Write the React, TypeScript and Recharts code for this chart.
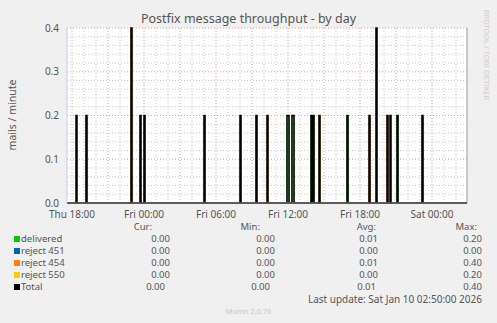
import { LineChart, Line, XAxis, YAxis, ReferenceLine, ReferenceArea } from 'recharts';

// 5-minute slots, slot 0 = Thu 17:35, 400 slots in the day graph
const SLOT_COUNT = 400;

const SERIES = [
  { key: 'delivered', label: 'delivered', color: '#00cc00' },
  { key: 'r451', label: 'reject 451', color: '#0066b3' },
  { key: 'r454', label: 'reject 454', color: '#ff8000' },
  { key: 'r550', label: 'reject 550', color: '#ffcc00' },
];

// spikes (slot, series, mails/minute)
const SPIKE_SLOTS = [9, 19, 64, 73, 77, 137, 173, 189, 200, 220, 221, 225, 226, 244, 246, 252, 280, 302, 309, 320, 323, 330, 355];
const SPIKE_SERIES = ['r550', 'r454', 'r454', 'r454', 'r454', 'r454', 'r454', 'delivered', 'r454', 'delivered', 'delivered', 'delivered', 'delivered', 'delivered', 'delivered', 'r454', 'delivered', 'r454', 'r454', 'r454', 'r550', 'delivered', 'delivered'];
const SPIKE_VALUES = [0.2, 0.2, 0.4, 0.2, 0.2, 0.2, 0.2, 0.2, 0.2, 0.2, 0.2, 0.2, 0.2, 0.2, 0.2, 0.2, 0.2, 0.2, 0.4, 0.2, 0.2, 0.2, 0.2];

const X_TICKS = [5, 77, 149, 221, 293, 365];
const X_LABELS = ['Thu 18:00', 'Fri 00:00', 'Fri 06:00', 'Fri 12:00', 'Fri 18:00', 'Sat 00:00'];
const Y_TICKS = [0, 0.1, 0.2, 0.3, 0.4];
const Y_MINOR = [0.02, 0.04, 0.06, 0.08, 0.12, 0.14, 0.16, 0.18, 0.22, 0.24, 0.26, 0.28, 0.32, 0.34, 0.36, 0.38];

const STATS = {
  delivered: ['0.00', '0.00', '0.01', '0.20'],
  r451: ['0.00', '0.00', '0.00', '0.00'],
  r454: ['0.00', '0.00', '0.01', '0.40'],
  r550: ['0.00', '0.00', '0.00', '0.20'],
};
const TOTAL_STATS = ['0.00', '0.00', '0.01', '0.40'];

type Row = { t: number; delivered: number; r451: number; r454: number; r550: number; total: number };

const rows: Row[] = [];
for (let i = 0; i <= SLOT_COUNT; i++) {
  rows.push({ t: i, delivered: 0, r451: 0, r454: 0, r550: 0, total: 0 });
}
SPIKE_SLOTS.forEach((s, i) => {
  const r = rows[s] as any;
  r[SPIKE_SERIES[i]] += SPIKE_VALUES[i];
  r.total += SPIKE_VALUES[i];
});

// hourly minor grid / 3-hourly major grid
const HOUR_LINES: number[] = [];
const MAJOR_X: number[] = [];
for (let s = 5; s <= SLOT_COUNT; s += 12) {
  if ((s - 5) % 36 === 0) MAJOR_X.push(s);
  else HOUR_LINES.push(s);
}

const FONT = '"Noto Sans", "Open Sans", sans-serif';
const TXT = '#555';

function Txt({ x, y, children, align = 'right', size = 9.5, color = TXT }: any) {
  const style: any = {
    position: 'absolute',
    top: y - 6,
    fontSize: size,
    lineHeight: '12px',
    height: 12,
    color,
    whiteSpace: 'nowrap',
  };
  if (align === 'right') style.right = 497 - x;
  else style.left = x;
  return <div style={style}>{children}</div>;
}

const COLS = [170, 275, 378, 482];
const ROW_Y = [239, 251, 263, 275];

export default function App() {
  return (
    <div style={{ position: 'absolute', left: 0, top: 0, width: 497, height: 323, background: '#f0f0f0', fontFamily: FONT, overflow: 'hidden' }}>
      <LineChart width={497} height={323} data={rows} margin={{ top: 28, right: 30, bottom: 100, left: 7 }}>
        <XAxis
          dataKey="t"
          type="number"
          domain={[0, SLOT_COUNT]}
          ticks={X_TICKS}
          tickFormatter={(v) => X_LABELS[X_TICKS.indexOf(v)]}
          tickLine={false}
          axisLine={false}
          tick={{ fontSize: 10, fill: TXT, fontFamily: FONT }}
          height={20}
          allowDataOverflow
        />
        <YAxis
          domain={[0, 0.4]}
          ticks={Y_TICKS}
          tickFormatter={(v) => v.toFixed(1)}
          tickLine={false}
          axisLine={false}
          tick={{ fontSize: 10, fill: TXT, fontFamily: FONT }}
          width={60}
        />
        <ReferenceArea x1={0} x2={SLOT_COUNT} y1={0} y2={0.4} fill="#ffffff" fillOpacity={1} stroke="none" />
        {Y_MINOR.map((v) => (
          <ReferenceLine key={`ym${v}`} y={v} stroke="#cccccc" strokeDasharray="1 2" />
        ))}
        {HOUR_LINES.map((v) => (
          <ReferenceLine key={`xm${v}`} x={v} stroke="#cccccc" strokeDasharray="1 2" />
        ))}
        {Y_TICKS.slice(1).map((v) => (
          <ReferenceLine key={`yM${v}`} y={v} stroke="#f0a0a0" strokeDasharray="1 2" />
        ))}
        {MAJOR_X.map((v) => (
          <ReferenceLine key={`xM${v}`} x={v} stroke="#f0a0a0" strokeDasharray="1 2" />
        ))}
        <ReferenceLine x={SLOT_COUNT} stroke="#9a9a9a" />
        {SERIES.map((s) => (
          <Line key={s.key} type="stepAfter" dataKey={s.key} stroke={s.color} strokeWidth={1} dot={false} isAnimationActive={false} />
        ))}
        <Line type="stepAfter" dataKey="total" stroke="#000" strokeWidth={1.5} dot={false} isAnimationActive={false} />
        <ReferenceLine y={0} stroke="#8a8aa8" />
        <ReferenceLine x={0} stroke="#c8c8ee" />
      </LineChart>

      <div style={{ position: 'absolute', top: 10, left: 0, width: 497, textAlign: 'center', fontSize: 12.5, color: '#555' }}>
        Postfix message throughput - by day
      </div>
      <div style={{ position: 'absolute', left: 12, top: 115, fontSize: 10.5, color: TXT, transform: 'translate(-50%, -50%) rotate(-90deg)', whiteSpace: 'nowrap' }}>
        mails / minute
      </div>
      <div style={{ position: 'absolute', left: 487, top: 55, fontSize: 7.5, color: '#cfcfcf', transform: 'translate(-50%, -50%) rotate(90deg)', whiteSpace: 'nowrap' }}>
        RRDTOOL / TOBI OETIKER
      </div>

      {/* legend table */}
      <div style={{ position: 'absolute', inset: 0 }}>
        {['Cur:', 'Min:', 'Avg:', 'Max:'].map((h, i) => (
          <Txt key={h} x={[152, 260, 376, 477][i]} y={227}>{h}</Txt>
        ))}
        {SERIES.map((s, r) => (
          <div key={s.key}>
            <div style={{ position: 'absolute', left: 14, top: ROW_Y[r] - 3, width: 6, height: 6, background: s.color }} />
            <Txt x={21} y={ROW_Y[r]} align="left">{s.label}</Txt>
            {(STATS as any)[s.key].map((v: string, c: number) => (
              <Txt key={c} x={COLS[c]} y={ROW_Y[r]}>{v}</Txt>
            ))}
          </div>
        ))}
        <div style={{ position: 'absolute', left: 14, top: 284, width: 6, height: 6, background: '#000' }} />
        <Txt x={21} y={287} align="left">Total</Txt>
        {TOTAL_STATS.map((v, c) => (
          <Txt key={c} x={[165, 270, 376, 482][c]} y={287}>{v}</Txt>
        ))}
        <Txt x={482} y={299} size={10}>Last update: Sat Jan 10 02:50:00 2026</Txt>
        <div style={{ position: 'absolute', top: 305, left: 0, width: 497, textAlign: 'center', fontSize: 7.5, lineHeight: '12px', color: '#c8c8c8' }}>
          Munin 2.0.76
        </div>
      </div>
    </div>
  );
}
